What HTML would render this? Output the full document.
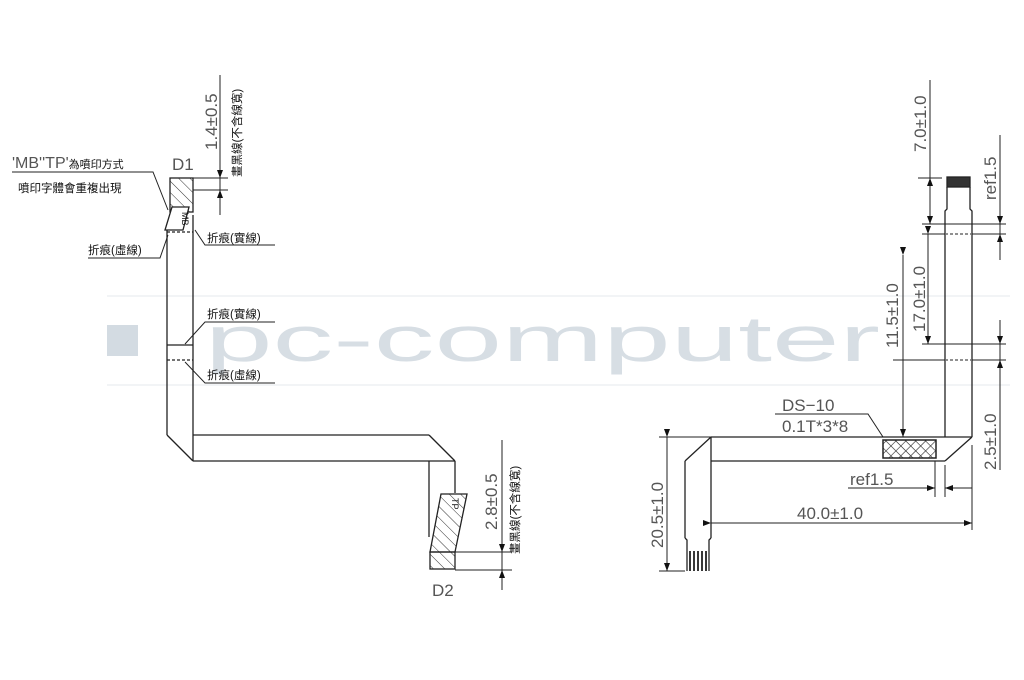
<!DOCTYPE html>
<html><head><meta charset="utf-8"><style>
html,body{margin:0;padding:0;background:#fff;width:1024px;height:680px;overflow:hidden}
text{font-family:"Liberation Sans","Noto Sans CJK TC",sans-serif}
</style></head><body>
<svg width="1024" height="680" viewBox="0 0 1024 680" xmlns="http://www.w3.org/2000/svg">
<defs>
<pattern id="h" width="8" height="8" patternUnits="userSpaceOnUse" patternTransform="rotate(-45)">
<line x1="0" y1="0" x2="0" y2="8" stroke="#333" stroke-width="1"/></pattern>
<pattern id="x" width="7" height="7" patternUnits="userSpaceOnUse" patternTransform="rotate(45)">
<line x1="0" y1="0" x2="0" y2="7" stroke="#222" stroke-width="1.2"/><line x1="0" y1="0" x2="7" y2="0" stroke="#222" stroke-width="1.2"/></pattern>
<marker id="a" markerWidth="8" markerHeight="6" refX="8" refY="3" orient="auto" markerUnits="userSpaceOnUse"><path d="M0,0 L8,3 L0,6z" fill="#111"/></marker>
</defs>
<line x1="107" y1="296" x2="1010" y2="296" stroke="#e6e9ec"/>
<line x1="107" y1="385" x2="1010" y2="385" stroke="#e6e9ec"/>
<rect x="107" y="325" width="31" height="31" fill="#d3dbe2"/>
<text x="205" y="361" font-size="64" fill="#d7dee4" textLength="675" lengthAdjust="spacingAndGlyphs">pc-computer</text>

<g stroke="#222" stroke-width="1.3" fill="none">
<rect x="170" y="178" width="23" height="34" fill="url(#h)"/>
<path d="M172,207 L189,207 L183,230 L165,230 Z" fill="#fff"/>
<line x1="167" y1="230" x2="167" y2="435"/>
<line x1="193" y1="215" x2="193" y2="461"/>
<line x1="167" y1="232" x2="193" y2="232" stroke-dasharray="3,2"/>
<line x1="167" y1="345" x2="193" y2="345"/>
<line x1="167" y1="360" x2="193" y2="360" stroke-dasharray="3,2"/>
<line x1="167" y1="435" x2="193" y2="461"/>
<line x1="193" y1="435" x2="429" y2="435"/>
<line x1="429" y1="435" x2="455" y2="461"/>
<line x1="193" y1="461" x2="455" y2="461"/>
<line x1="429" y1="461" x2="429" y2="537"/>
<line x1="455" y1="461" x2="455" y2="493"/>
<path d="M441,494 L467,494 L455,552 L430,552 Z" fill="url(#h)"/>
<rect x="430" y="552" width="25" height="17" fill="url(#h)"/>
<line x1="455" y1="552" x2="512" y2="552" stroke-width="1"/>
<line x1="455" y1="570" x2="512" y2="570" stroke-width="1"/>
<line x1="502" y1="440" x2="502" y2="590" stroke-width="1"/>
<line x1="502" y1="540" x2="502" y2="552" marker-end="url(#a)" stroke-width="1"/>
<line x1="502" y1="585" x2="502" y2="570" marker-end="url(#a)" stroke-width="1"/>
<line x1="193" y1="178" x2="228" y2="178" stroke-width="1"/>
<line x1="193" y1="190" x2="228" y2="190" stroke-width="1"/>
<line x1="220" y1="75" x2="220" y2="215" stroke-width="1"/>
<line x1="220" y1="165" x2="220" y2="178" marker-end="url(#a)" stroke-width="1"/>
<line x1="220" y1="203" x2="220" y2="190" marker-end="url(#a)" stroke-width="1"/>
<path d="M12,172 L153,172 L168,210" stroke-width="1"/>
<path d="M88,258 L160,258 L168,235" stroke-width="1"/>
<path d="M275,245 L205,245 L195,230" stroke-width="1"/>
<path d="M275,322 L205,322 L185,344" stroke-width="1"/>
<path d="M275,383 L205,383 L185,362" stroke-width="1"/>

<rect x="947" y="177" width="23" height="10" fill="#333"/>
<path d="M947,187 L947,209 L945,211 L945,437 M970,187 L970,209 L972,211 L972,437"/>
<line x1="922" y1="224" x2="1006" y2="224" stroke-width="1"/>
<line x1="922" y1="234" x2="1006" y2="234" stroke-width="1"/>
<line x1="945" y1="234" x2="972" y2="234" stroke="#fff" stroke-width="1.5"/>
<line x1="945" y1="234" x2="972" y2="234" stroke-dasharray="3,2" stroke-width="1"/>
<line x1="922" y1="344" x2="1006" y2="344" stroke-width="1"/>
<line x1="893" y1="360" x2="1006" y2="360" stroke-width="1"/>
<line x1="945" y1="360" x2="972" y2="360" stroke="#fff" stroke-width="1.5"/>
<line x1="945" y1="360" x2="972" y2="360" stroke-dasharray="3,2" stroke-width="1"/>
<line x1="918" y1="178" x2="942" y2="178" stroke-width="1"/>
<line x1="930" y1="80" x2="930" y2="224" stroke-width="1"/>
<line x1="930" y1="195" x2="930" y2="178" marker-end="url(#a)" stroke-width="1"/>
<line x1="930" y1="205" x2="930" y2="224" marker-end="url(#a)" stroke-width="1"/>
<line x1="928" y1="234" x2="928" y2="344" stroke-width="1" marker-start="url(#a)" marker-end="url(#a)"/>
<line x1="903" y1="255" x2="903" y2="437" stroke-width="1" marker-start="url(#a)" marker-end="url(#a)"/>
<line x1="1000" y1="135" x2="1000" y2="260" stroke-width="1"/>
<line x1="1000" y1="210" x2="1000" y2="224" marker-end="url(#a)" stroke-width="1"/>
<line x1="1000" y1="248" x2="1000" y2="234" marker-end="url(#a)" stroke-width="1"/>
<line x1="1000" y1="320" x2="1000" y2="470" stroke-width="1"/>
<line x1="1000" y1="330" x2="1000" y2="344" marker-end="url(#a)" stroke-width="1"/>
<line x1="1000" y1="374" x2="1000" y2="360" marker-end="url(#a)" stroke-width="1"/>
<line x1="711" y1="437" x2="972" y2="437"/>
<line x1="972" y1="437" x2="945" y2="461"/>
<line x1="711" y1="461" x2="945" y2="461"/>
<line x1="711" y1="437" x2="685" y2="461"/>
<line x1="711" y1="437" x2="711" y2="538"/>
<line x1="685" y1="461" x2="685" y2="538"/>
<path d="M685,538 L687,540 L687,571 M711,538 L709,540 L709,571"/>
<g stroke-width="1.8"><line x1="690" y1="551" x2="690" y2="571"/><line x1="694" y1="551" x2="694" y2="571"/><line x1="698" y1="551" x2="698" y2="571"/><line x1="702" y1="551" x2="702" y2="571"/><line x1="706" y1="551" x2="706" y2="571"/></g>
<rect x="883" y="440" width="53" height="18" fill="url(#x)" stroke-width="1.5"/>
<path d="M775,414 L868,414 L883,437" stroke-width="1"/>
<line x1="659" y1="437" x2="711" y2="437" stroke-width="1"/>
<line x1="659" y1="571" x2="685" y2="571" stroke-width="1"/>
<line x1="667" y1="437" x2="667" y2="571" stroke-width="1" marker-start="url(#a)" marker-end="url(#a)"/>
<line x1="935" y1="461" x2="935" y2="497" stroke-width="1"/>
<line x1="945" y1="465" x2="945" y2="497" stroke-width="1"/>
<line x1="848" y1="488" x2="935" y2="488" stroke-width="1" marker-end="url(#a)"/>
<line x1="972" y1="488" x2="945" y2="488" stroke-width="1" marker-end="url(#a)"/>
<line x1="972" y1="445" x2="972" y2="530" stroke-width="1"/>
<line x1="711" y1="523" x2="972" y2="523" stroke-width="1" marker-start="url(#a)" marker-end="url(#a)"/>
</g>
<g fill="#555" font-size="17">
<text transform="translate(217,150) rotate(-90)">1.4±0.5</text>
<text transform="translate(497,530) rotate(-90)">2.8±0.5</text>
<text transform="translate(926,152) rotate(-90)">7.0±1.0</text>
<text transform="translate(925,332) rotate(-90)">17.0±1.0</text>
<text transform="translate(898,348) rotate(-90)">11.5±1.0</text>
<text transform="translate(996,200) rotate(-90)">ref1.5</text>
<text transform="translate(996,470) rotate(-90)">2.5±1.0</text>
<text transform="translate(663,548) rotate(-90)">20.5±1.0</text>
<text x="782" y="411">DS−10</text>
<text x="782" y="432">0.1T*3*8</text>
<text x="850" y="485">ref1.5</text>
<text x="797" y="519">40.0±1.0</text>
<text x="172" y="170">D1</text>
<text x="432" y="596">D2</text>
<text x="12" y="168" font-size="16">'MB''TP'<tspan font-size="11" fill="#111">為噴印方式</tspan></text>
</g>
<g fill="#111" font-size="11.5">
<text x="18" y="192">噴印字體會重複出現</text>
<text x="88" y="254">折痕(虛線)</text>
<text x="207" y="242">折痕(實線)</text>
<text x="207" y="318">折痕(實線)</text>
<text x="207" y="379">折痕(虛線)</text>
<text transform="translate(241,177) rotate(-90)">畫黑線(不含線寬)</text>
<text transform="translate(519,554) rotate(-90)">畫黑線(不含線寬)</text>
<text transform="translate(182,212) rotate(90)" font-size="9">MB</text>
<text transform="translate(452,498) rotate(90)" font-size="9">TP</text>
</g>
</svg>
</body></html>
